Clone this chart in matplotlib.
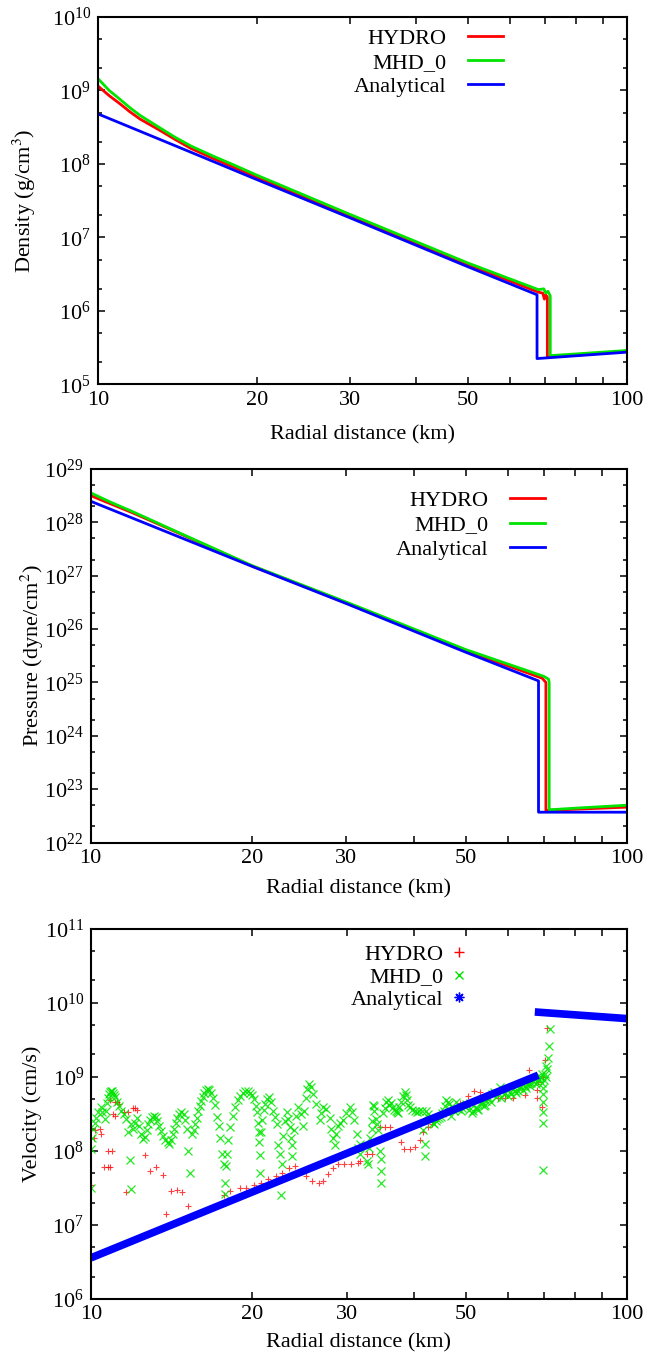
import matplotlib
matplotlib.use("Agg")
import matplotlib.pyplot as plt
import numpy as np
from matplotlib.lines import Line2D
from matplotlib.ticker import (FixedLocator, FixedFormatter, LogLocator,
                               LogFormatterMathtext, NullFormatter)

plt.rcParams["font.family"] = ["Liberation Serif", "DejaVu Serif"]
plt.rcParams["mathtext.fontset"] = "stix"

RED = "#ff0000"
GREEN = "#00e400"
BLUE = "#0000ff"

labels = ["HYDRO", "MHD_0", "Analytical"]
xticks = [10, 20, 30, 50, 100]
xtick_labels = ["10", "20", "30", "50", "100"]
xminor = [40, 60, 70, 80, 90]

# --- density (g/cm^3) ---
den_hydro_x = [10, 10.5, 11, 11.5, 12, 13, 14, 15, 16.5, 18, 20, 30, 50, 68, 69.3, 69.8, 70.2,
               70.7, 70.7, 80, 100]
den_hydro = [1.15e9, 8.5e8, 6.6e8, 5.1e8, 4.1e8, 2.95e8, 2.15e8, 1.62e8, 1.19e8, 9.1e7, 6.6e7,
             1.97e7, 4.3e6, 1.8e6, 1.75e6, 1.45e6, 1.65e6, 1.55e6, 2.35e5, 2.5e5, 2.85e5]
den_mhd_x = [10, 10.5, 11, 11.5, 12, 13, 14, 15, 16.5, 18, 20, 30, 50, 68, 69.6, 70.2, 70.9,
             71.6, 71.6, 80, 100]
den_mhd = [1.45e9, 1.0e9, 7.6e8, 5.8e8, 4.6e8, 3.2e8, 2.3e8, 1.75e8, 1.28e8, 9.8e7, 7.0e7,
           2.05e7, 4.5e6, 1.95e6, 2.0e6, 1.75e6, 1.85e6, 1.6e6, 2.47e5, 2.6e5, 2.9e5]
den_ana_x = [10, 15, 20, 30, 50, 67.6, 67.6, 100]
den_ana = [4.8e8, 1.44e8, 6.1e7, 1.84e7, 4.0e6, 1.66e6, 2.25e5, 2.75e5]

# --- pressure (dyne/cm^2) ---
pre_hydro_x = [10, 10.5, 11, 12, 14, 20, 30, 50, 69.5, 70.6, 70.6, 80, 100]
pre_hydro = [3.2e28, 2.6e28, 2.15e28, 1.5e28, 7.6e27, 1.52e27, 3.1e26, 3.95e25, 1.2e25, 1.0e25,
             4.0e22, 4.2e22, 4.6e22]
pre_mhd_x = [10, 10.5, 11, 12, 14, 20, 30, 50, 70, 71.4, 71.6, 71.6, 80, 100]
pre_mhd = [3.6e28, 2.85e28, 2.3e28, 1.58e28, 7.8e27, 1.55e27, 3.2e26, 4.15e25, 1.3e25, 1.15e25,
           1.0e25, 4.1e22, 4.4e22, 5.0e22]
pre_ana_x = [10, 20, 30, 50, 68.4, 68.4, 100]
pre_ana = [2.5e28, 1.5e27, 3.0e26, 3.7e25, 1.07e25, 3.7e22, 3.7e22]

# --- velocity (cm/s) ---
vel_hydro_x = [10.0, 10.13, 10.19, 10.38, 10.45, 10.56, 10.75, 10.87, 10.75, 10.93, 10.83, 11.0,
               11.07, 11.1, 11.2, 11.3, 11.5, 11.7, 12.0, 12.1, 12.2, 11.6, 12.6, 12.9, 13.2, 13.6,
               13.8, 14.1, 14.5, 14.8, 15.2, 17.7, 18.2, 19.0, 19.5, 20.1, 20.8, 21.4, 22.1, 22.7,
               23.4, 24.0, 25.2, 25.8, 26.6, 27.1, 27.7, 28.3, 28.9, 29.7, 30.6, 31.5, 31.7, 32.7,
               33.4, 34.6, 35.4, 36.1, 37.8, 38.4, 39.3, 40.2, 41.1, 41.7, 42.6, 43.2, 44.4, 45.9,
               47.4, 48.9, 50.5, 51.9, 53.1, 57.4, 59.1, 61.3, 64.4, 65.7, 67.8, 67.8, 68.3, 69.7,
               69.3, 70.3, 70.8]
vel_hydro = [3.5e7, 1.5e8, 1.9e8, 2.0e8, 1.7e8, 6.0e7, 6.0e7, 6.0e7, 1.0e8, 1.0e8, 4.8e8, 3.1e8,
             3.0e8, 4.6e8, 4.5e8, 4.3e8, 3.3e8, 3.3e8, 3.8e8, 3.8e8, 3.6e8, 2.75e7, 8.9e7, 5.4e7,
             6.0e7, 4.7e7, 1.4e7, 2.9e7, 3.0e7, 2.8e7, 1.8e7, 2.5e7, 2.9e7, 3.2e7, 3.2e7, 3.5e7,
             3.7e7, 4.2e7, 4.6e7, 5.1e7, 5.9e7, 6.3e7, 4.6e7, 3.9e7, 3.7e7, 3.9e7, 4.8e7, 5.9e7,
             6.6e7, 6.6e7, 6.6e7, 6.9e7, 7.2e7, 9.1e7, 9.1e7, 2.1e8, 2.1e8, 2.1e8, 1.3e8, 1.05e8,
             1.05e8, 1.12e8, 1.4e8, 1.8e8, 2.1e8, 2.3e8, 2.8e8, 3.3e8, 3.8e8, 4.4e8, 5.5e8, 6.5e8,
             6.2e8, 5.1e8, 5.1e8, 5.1e8, 5.7e8, 1.23e9, 6.6e8, 5.1e8, 8.6e8, 1.0e9, 3.9e8, 1.68e9,
             4.5e9]

vel_mhd_x = [10.0, 10.0, 10.05, 10.1, 10.16, 10.23, 10.3, 10.42, 10.5, 10.6,
             10.65, 10.7, 10.75, 10.8, 10.85, 10.9, 10.95, 11.0, 11.05, 11.1, 11.2, 11.3, 11.4,
             11.5, 11.6, 11.7, 11.8, 11.87, 11.9, 12.0, 12.1, 12.2, 12.3, 12.4, 12.5,
             12.6, 12.7, 12.8, 12.9, 13.0, 13.1, 13.2, 13.3, 13.4, 13.5, 13.6, 13.75, 13.9, 14.0,
             14.1, 14.2, 14.3, 14.4, 14.5, 14.6, 14.75, 14.9, 15.0, 15.1, 15.2, 15.3, 15.45, 15.55,
             15.65, 15.75, 15.85, 15.95, 16.05, 16.15, 16.25, 16.4, 16.5, 16.6, 16.75, 16.9, 17.05,
             17.2, 17.3, 17.4, 17.55, 17.7, 17.75, 17.8, 17.85, 17.95,
             18.05, 18.2, 18.4, 18.6, 18.8, 19.0, 19.2, 19.4, 19.6, 19.8, 20.0, 20.15, 20.3, 20.4,
             20.5, 20.55, 20.6, 20.65, 20.65,
             20.75, 20.85, 21.0, 21.1, 21.3, 21.5, 21.7, 21.9, 22.05, 22.2, 22.35, 22.5, 22.6, 22.7,
             22.85, 23.0, 23.2, 23.35, 23.5, 23.6, 23.7, 23.75,
             23.9, 24.1, 24.35, 24.6, 24.9,
             25.0, 25.15, 25.3, 25.5, 25.7, 26.0, 26.3, 26.7, 26.9, 27.1, 27.5, 27.9, 28.1, 28.3,
             28.5, 28.7, 28.9, 29.2, 29.5, 29.9, 30.4, 30.7, 31.0, 31.3, 31.5, 31.7, 31.8, 32.7,
             32.9, 33.2, 33.5, 33.6, 33.8, 34.0, 34.3, 34.6, 34.8, 34.8, 34.8, 35.1, 35.5, 36.0,
             36.6, 37.0, 37.4, 37.9, 38.5, 38.9, 39.3, 40.2, 41.0, 41.9, 41.9, 42.2, 42.8, 43.4,
             44.0, 44.6, 45.0, 45.5, 46.0, 46.6, 47.0, 47.6, 48.0, 48.6, 49.0, 49.3, 50.0, 50.8,
             51.0, 51.4, 52.2, 52.8, 53.3, 54.0, 54.5, 55.3, 55.8, 56.0, 57.0, 57.9, 58.9, 60.0,
             60.4, 61.7, 62.0, 63.0, 64.0, 64.4, 65.5, 66.0, 66.8, 67.5, 68.0, 68.5, 69.3, 70.0,
             70.5, 70.8, 71.3, 71.5, 71.7, 69.7, 69.8, 69.7, 69.7, 69.7,
             33.0, 33.4, 33.7, 34.1, 35.3, 35.8, 36.3, 36.8, 37.2, 37.6, 38.2, 38.7, 39.1, 39.7,
             40.6, 41.4, 41.6, 42.5, 43.1, 43.7, 44.3, 45.2, 45.8, 46.3, 47.3, 48.3, 49.6, 50.4,
             51.7, 52.5, 53.6, 54.3, 55.0, 56.5, 57.4, 58.3, 59.3, 60.7, 61.3, 62.6, 63.3, 64.7,
             65.2, 66.3, 67.0, 67.8, 68.8, 69.5, 70.2, 70.6, 69.6]
vel_mhd = [3.2e7, 1.07e8, 1.5e8, 2.0e8, 2.4e8, 2.8e8, 3.3e8, 3.9e8, 3.3e8, 2.7e8,
           3.5e8, 4.4e8, 5.2e8, 5.9e8, 6.3e8, 6.5e8, 6.4e8, 6.1e8, 5.7e8, 5.3e8, 4.6e8, 4.0e8, 3.5e8,
           3.1e8, 2.7e8, 1.8e8, 7.6e7, 3.1e7, 2.3e8, 2.0e8, 2.4e8, 2.8e8, 2.2e8, 1.7e8, 1.45e8,
           1.55e8, 1.9e8, 2.3e8, 2.6e8, 2.85e8, 3.0e8, 2.85e8, 2.55e8, 2.2e8, 1.85e8, 1.6e8, 1.4e8,
           1.3e8, 1.25e8,
           1.4e8, 1.7e8, 2.0e8, 2.4e8, 2.8e8, 3.1e8, 3.3e8, 3.1e8, 2.6e8, 2.0e8, 1.0e8, 5.1e7,
           1.7e8, 1.9e8,
           2.3e8, 2.8e8, 3.4e8, 4.0e8, 4.7e8, 5.4e8, 6.0e8, 6.6e8, 6.9e8, 6.7e8, 6.1e8, 5.2e8, 4.1e8,
           2.9e8, 2.2e8, 1.5e8, 9.0e7, 6.6e7, 3.7e7, 2.6e7, 6.3e7, 9.1e7,
           1.4e8, 2.1e8, 3.0e8, 3.9e8, 4.8e8, 5.5e8, 6.0e8, 6.4e8, 6.4e8, 6.1e8, 5.6e8, 5.0e8, 4.0e8,
           3.3e8, 2.4e8, 1.8e8, 1.3e8, 8.9e7, 5.0e7,
           1.8e8, 2.6e8, 3.6e8, 4.3e8, 5.0e8, 5.4e8, 4.6e8, 3.5e8, 2.9e8, 2.3e8, 1.2e8, 9.1e7, 2.5e7,
           6.6e7,
           1.6e8, 2.5e8, 3.3e8, 2.7e8, 2.1e8, 1.5e8, 1.2e8, 8.4e7,
           1.9e8, 3.0e8, 3.9e8, 3.1e8, 2.2e8,
           3.5e8, 5.2e8, 6.8e8, 8.0e8, 7.2e8, 5.8e8, 4.3e8, 2.6e8, 3.2e8, 3.9e8, 3.7e8, 2.8e8, 2.0e8,
           1.5e8, 1.2e8, 1.7e8, 2.2e8, 2.4e8, 2.6e8, 3.2e8, 3.9e8, 3.3e8, 2.6e8, 1.7e8, 1.1e8, 9.1e7,
           1.23e8, 7.2e7, 6.6e7, 1.5e8, 2.5e8, 4.2e8, 3.5e8, 2.7e8, 1.9e8, 1.0e8, 7.8e7, 5.3e7,
           3.7e7, 3.2e8, 4.5e8, 4.2e8, 3.9e8, 3.5e8, 3.2e8, 4.5e8, 6.2e8, 4.8e8, 3.9e8, 3.5e8, 3.4e8,
           1.23e8, 8.4e7, 3.5e8, 2.8e8, 2.4e8, 2.5e8, 2.8e8, 2.9e8, 3.5e8, 4.8e8, 4.3e8, 3.0e8,
           3.5e8, 4.5e8, 4.1e8, 3.4e8, 3.8e8, 4.3e8, 3.6e8, 4.4e8, 3.2e8, 3.9e8, 3.6e8, 4.3e8,
           4.0e8, 4.7e8, 5.2e8, 4.6e8, 5.8e8, 5.3e8, 7.2e8, 5.8e8, 5.5e8, 6.2e8, 6.4e8, 6.0e8,
           7.0e8, 6.6e8, 7.6e8, 8.2e8, 7.5e8, 8.9e8, 8.0e8, 1.0e9, 9.3e8, 1.1e9, 9.0e8, 1.0e9,
           1.26e9, 1.8e9, 2.6e9, 4.4e9, 5.8e8, 4.5e8, 3.3e8, 2.4e8, 5.5e7,
           1.1e8, 2.0e8, 4.0e8, 2.3e8, 3.8e8, 4.8e8, 4.4e8, 3.6e8, 3.3e8, 3.9e8, 5.5e8, 5.6e8,
           4.2e8, 3.6e8, 3.3e8, 3.5e8, 1.9e8, 3.1e8, 2.6e8, 2.3e8, 2.7e8, 3.2e8, 4.0e8, 4.5e8,
           3.8e8, 3.7e8, 4.0e8, 4.1e8, 3.4e8, 3.7e8, 4.5e8, 4.2e8, 5.0e8, 6.2e8, 6.0e8, 5.2e8,
           6.0e8, 5.9e8, 6.8e8, 6.4e8, 7.3e8, 7.1e8, 8.0e8, 8.3e8, 9.5e8, 8.6e8, 9.8e8, 8.2e8,
           1.1e9, 1.4e9, 7.0e8]

vel_ana_x = [10, 68.3, np.nan, 67.3, 100]
vel_ana = [3.6e6, 1.05e9, np.nan, 7.5e9, 6.1e9]


def style_axes(ax, ymin, ymax, ylabel, ylabel_x, xlabel_y):
    ax.set_xscale("log")
    ax.set_yscale("log")
    ax.set_xlim(10, 100)
    ax.set_ylim(ymin, ymax)
    ax.xaxis.set_major_locator(FixedLocator(xticks))
    ax.xaxis.set_major_formatter(FixedFormatter(xtick_labels))
    ax.xaxis.set_minor_locator(FixedLocator(xminor))
    ax.xaxis.set_minor_formatter(NullFormatter())
    ax.yaxis.set_major_locator(LogLocator(base=10, numticks=30))
    ax.yaxis.set_major_formatter(LogFormatterMathtext())
    ax.yaxis.set_minor_locator(LogLocator(base=10, subs=(2, 5), numticks=30))
    ax.yaxis.set_minor_formatter(NullFormatter())
    ax.tick_params(which="both", direction="in", top=True, right=True, width=1.1,
                   labelsize=16)
    ax.tick_params(axis="y", which="major", length=5, pad=5)
    ax.tick_params(axis="y", which="minor", length=2.6)
    ax.tick_params(axis="x", which="both", length=5, pad=4.5)
    for s in ax.spines.values():
        s.set_linewidth(1.5)
    ax.set_ylabel(ylabel, fontsize=16)
    ax.set_xlabel("Radial distance (km)", fontsize=16)
    ax.yaxis.set_label_coords(ylabel_x, 0.5)
    ax.xaxis.set_label_coords(0.5, xlabel_y)


fig = plt.figure(figsize=(6.48, 13.58), dpi=100)
ax1 = fig.add_axes([0.1512, 0.7169, 0.8164, 0.2706])
ax2 = fig.add_axes([0.1397, 0.3796, 0.8279, 0.2750])
ax3 = fig.add_axes([0.1404, 0.0434, 0.8272, 0.2728])

leg_kw = dict(loc="upper right", frameon=False, markerfirst=False, fontsize=16,
              borderpad=0, borderaxespad=0)

# density
ax1.plot(den_hydro_x, den_hydro, color=RED, lw=2.0, label=labels[0])
ax1.plot(den_mhd_x, den_mhd, color=GREEN, lw=2.0, label=labels[1])
ax1.plot(den_ana_x, den_ana, color=BLUE, lw=2.0, label=labels[2])
style_axes(ax1, 1e5, 1e10, r"Density (g/cm$^3$)", -0.113, -0.111)
ax1.legend(bbox_to_anchor=(0.766, 0.97), handlelength=1.6, handletextpad=0.95,
           labelspacing=0.17, **leg_kw)

# pressure
ax2.plot(pre_hydro_x, pre_hydro, color=RED, lw=2.0, label=labels[0])
ax2.plot(pre_mhd_x, pre_mhd, color=GREEN, lw=2.0, label=labels[1])
ax2.plot(pre_ana_x, pre_ana, color=BLUE, lw=2.0, label=labels[2])
style_axes(ax2, 1e22, 1e29, r"Pressure (dyne/cm$^2$)", -0.083, -0.098)
ax2.legend(bbox_to_anchor=(0.848, 0.944), handlelength=1.6, handletextpad=0.95,
           labelspacing=0.19, **leg_kw)

# velocity
ax3.plot(vel_hydro_x, vel_hydro, ls="none", marker="+", ms=5, mew=0.8, color=RED, alpha=0.75)
ax3.plot(vel_mhd_x, vel_mhd, ls="none", marker="x", ms=5.5, mew=0.9, color=GREEN, alpha=0.85)
ax3.plot(vel_ana_x, vel_ana, color=BLUE, lw=5.5, solid_capstyle="butt")
style_axes(ax3, 1e6, 1e11, "Velocity (cm/s)", -0.092, -0.092)
handles = [
    Line2D([], [], ls="none", marker="+", ms=7, mew=1.0, color=RED),
    Line2D([], [], ls="none", marker="x", ms=6, mew=1.0, color=GREEN),
    Line2D([], [], ls="none", marker=(8, 2, 0), ms=7, mew=1.0, color=BLUE),
]
ax3.legend(handles, labels, bbox_to_anchor=(0.704, 0.958), handlelength=0.8,
           handletextpad=0.34, labelspacing=0.1, **leg_kw)

fig.savefig("out.png", dpi=100)
